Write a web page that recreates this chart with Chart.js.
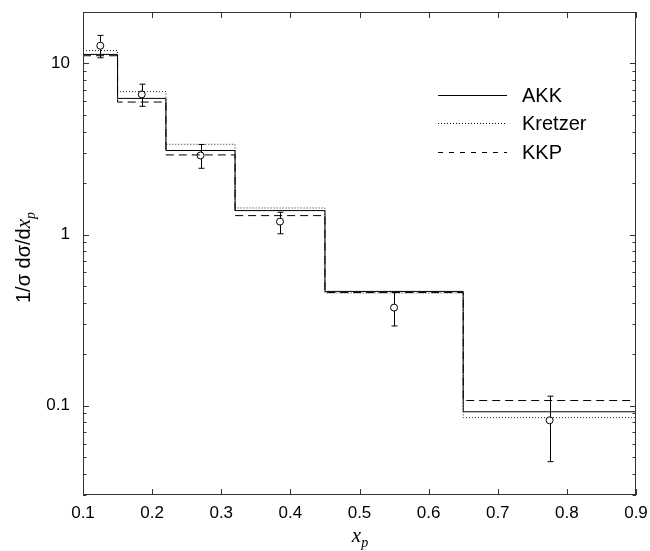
<!DOCTYPE html>
<html>
<head>
<meta charset="utf-8">
<script src="https://cdn.jsdelivr.net/npm/chart.js@4.4.0/dist/chart.umd.min.js"></script>
<style>
body { margin: 0; background: #fff; }
canvas { display: block; }
</style>
</head>
<body>
<canvas id="chart" width="650" height="551"></canvas>
<script>
// bin edges of the histogram (x_p)
const binEdges = [0.1, 0.15, 0.22, 0.32, 0.45, 0.65, 0.9];
// theory predictions per bin
const akk = [11.3, 6.25, 3.1, 1.38, 0.465, 0.092];
const kretzer = [11.9, 6.85, 3.37, 1.43, 0.455, 0.085];
const kkp = [11.1, 5.95, 2.92, 1.29, 0.458, 0.107];
// data points with errors
const dataX = [0.125, 0.185, 0.27, 0.385, 0.55, 0.775];
const dataY = [12.7, 6.6, 2.9, 1.19, 0.374, 0.082];
const errHigh = [14.6, 7.57, 3.36, 1.35, 0.459, 0.1135];
const errLow = [10.8, 5.62, 2.44, 1.01, 0.292, 0.047];
// axis labels
const xTicks = [0.1, 0.2, 0.3, 0.4, 0.5, 0.6, 0.7, 0.8, 0.9];
const yLabels = [0.1, 1, 10];

const FONT = "'Liberation Sans', Arial, Helvetica, sans-serif";
const SERIF = "'Liberation Serif', 'Times New Roman', serif";

function stepPoints(values) {
    const pts = values.map((v, i) => ({ x: binEdges[i], y: v }));
    pts.push({ x: binEdges[binEdges.length - 1], y: values[values.length - 1] });
    return pts;
}

function yLabel(v) {
    const hit = yLabels.find((l) => Math.abs(l - v) < 1e-9);
    return hit === undefined ? '' : String(hit);
}

const framePlugin = {
    id: 'frame',
    beforeDatasetsDraw(chart) {
        const ctx = chart.ctx;
        const xs = chart.scales.x, ys = chart.scales.y;
        // error bars under the circles
        ctx.save();
        ctx.strokeStyle = '#000';
        ctx.lineWidth = 1;
        dataX.forEach((x, i) => {
            const px = Math.round(xs.getPixelForValue(x)) + 0.5;
            const top = ys.getPixelForValue(errHigh[i]);
            const bot = ys.getPixelForValue(errLow[i]);
            ctx.beginPath();
            ctx.moveTo(px, top); ctx.lineTo(px, bot);
            ctx.moveTo(px - 3, top); ctx.lineTo(px + 3, top);
            ctx.moveTo(px - 3, bot); ctx.lineTo(px + 3, bot);
            ctx.stroke();
        });
        ctx.restore();
    },
    afterDraw(chart) {
        const ctx = chart.ctx;
        const a = chart.chartArea;
        const xs = chart.scales.x, ys = chart.scales.y;
        ctx.save();
        ctx.strokeStyle = '#333';
        ctx.lineWidth = 1;
        ctx.strokeRect(a.left + 0.5, a.top + 0.5, a.right - a.left - 1, a.bottom - a.top - 1);

        // inside ticks on x (top and bottom)
        ctx.beginPath();
        xTicks.forEach((v) => {
            const px = Math.round(xs.getPixelForValue(v)) + 0.5;
            ctx.moveTo(px, a.bottom); ctx.lineTo(px, a.bottom - 6);
            ctx.moveTo(px, a.top); ctx.lineTo(px, a.top + 6);
        });
        // inside ticks on y (left and right), major and minor
        for (let e = -2; e <= 1; e++) {
            for (let m = 1; m <= 9; m++) {
                const v = m * Math.pow(10, e);
                if (v < ys.min || v > ys.max) continue;
                const len = m === 1 ? 6 : 3.5;
                const py = Math.round(ys.getPixelForValue(v)) + 0.5;
                ctx.moveTo(a.left, py); ctx.lineTo(a.left + len, py);
                ctx.moveTo(a.right, py); ctx.lineTo(a.right - len, py);
            }
        }
        ctx.stroke();

        // legend
        const rows = [95, 123, 152];
        chart.data.datasets.slice(0, 3).forEach((ds, i) => {
            ctx.beginPath();
            ctx.setLineDash(ds.legendDash || []);
            ctx.strokeStyle = '#000';
            ctx.moveTo(438, rows[i] + 0.5);
            ctx.lineTo(507, rows[i] + 0.5);
            ctx.stroke();
            ctx.setLineDash([]);
            ctx.fillStyle = '#000';
            ctx.font = '20px ' + FONT;
            ctx.textBaseline = 'middle';
            ctx.textAlign = 'left';
            ctx.fillText(ds.label, 522, rows[i] + 1);
        });

        // axis titles with subscript
        ctx.fillStyle = '#000';
        ctx.textBaseline = 'alphabetic';
        ctx.textAlign = 'left';
        // y title
        ctx.save();
        ctx.translate(30, (a.top + a.bottom) / 2 + 4);
        ctx.rotate(-Math.PI / 2);
        const main = '1/\u03c3 d\u03c3/d';
        ctx.font = '20px ' + FONT;
        const w1 = ctx.measureText(main).width;
        ctx.font = 'italic 21px ' + SERIF;
        const w2 = ctx.measureText('x').width;
        ctx.font = 'italic 14px ' + SERIF;
        const w3 = ctx.measureText('p').width;
        let sx = -(w1 + w2 + w3) / 2;
        ctx.font = '20px ' + FONT;
        ctx.fillText(main, sx, 0);
        ctx.font = 'italic 21px ' + SERIF;
        ctx.fillText('x', sx + w1, 0);
        ctx.font = 'italic 14px ' + SERIF;
        ctx.fillText('p', sx + w1 + w2, 5);
        ctx.restore();
        // x title
        const cx = (a.left + a.right) / 2;
        ctx.font = 'italic 21px ' + SERIF;
        const wx = ctx.measureText('x').width;
        ctx.fillText('x', cx - wx / 2 - 3, 542);
        ctx.font = 'italic 14px ' + SERIF;
        ctx.fillText('p', cx + wx / 2 - 3, 547);
        ctx.restore();
    }
};

function drawChart() {
    const ctx = document.getElementById('chart').getContext('2d');
    new Chart(ctx, {
        type: 'line',
        data: {
            datasets: [
                {
                    label: 'AKK',
                    data: stepPoints(akk),
                    stepped: true,
                    borderColor: '#000',
                    borderWidth: 1,
                    pointRadius: 0,
                    fill: false,
                    legendDash: []
                },
                {
                    label: 'Kretzer',
                    data: stepPoints(kretzer),
                    stepped: true,
                    borderColor: '#222',
                    borderWidth: 1,
                    borderDash: [1, 2],
                    pointRadius: 0,
                    fill: false,
                    legendDash: [1, 2]
                },
                {
                    label: 'KKP',
                    data: stepPoints(kkp),
                    stepped: true,
                    borderColor: '#000',
                    borderWidth: 1,
                    borderDash: [8, 5],
                    pointRadius: 0,
                    fill: false,
                    legendDash: [5, 6]
                },
                {
                    label: 'data',
                    data: dataX.map((x, i) => ({ x: x, y: dataY[i] })),
                    showLine: false,
                    pointStyle: 'circle',
                    pointRadius: 3.5,
                    pointBorderWidth: 1,
                    pointBorderColor: '#000',
                    pointBackgroundColor: '#fff'
                }
            ]
        },
        options: {
            responsive: false,
            animation: false,
            layout: { padding: { top: 12, right: 14, left: 0, bottom: 0 } },
            plugins: {
                legend: { display: false },
                tooltip: { enabled: false }
            },
            scales: {
                x: {
                    type: 'linear',
                    min: 0.1,
                    max: 0.9,
                    grid: { display: false, drawTicks: false },
                    border: { display: false },
                    afterFit: (scale) => {
                        scale.height = 56;
                        scale.paddingLeft = 0;
                        scale.paddingRight = 0;
                    },
                    ticks: {
                        stepSize: 0.1,
                        padding: 8,
                        color: '#000',
                        font: { family: FONT, size: 17 },
                        callback: (v) => v.toFixed(1)
                    }
                },
                y: {
                    type: 'logarithmic',
                    min: 0.03,
                    max: 20,
                    grid: { display: false, drawTicks: false },
                    border: { display: false },
                    afterFit: (scale) => {
                        scale.width = 83;
                        scale.paddingTop = 0;
                        scale.paddingBottom = 0;
                    },
                    ticks: {
                        autoSkip: false,
                        padding: 13,
                        color: '#000',
                        font: { family: FONT, size: 17 },
                        callback: (v) => yLabel(v)
                    }
                }
            }
        },
        plugins: [framePlugin]
    });
}

window.onload = drawChart;
</script>
</body>
</html>
